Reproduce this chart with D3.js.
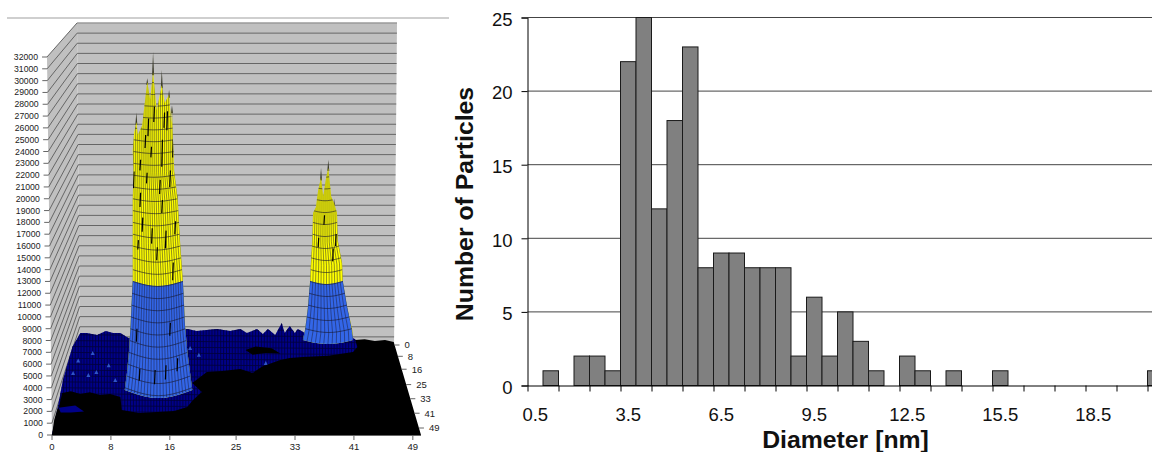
<!DOCTYPE html>
<html>
<head>
<meta charset="utf-8">
<script src="https://cdnjs.cloudflare.com/ajax/libs/d3/7.8.5/d3.min.js"></script>
<style>
  html, body { margin: 0; padding: 0; background: #fff; overflow: hidden; }
  svg { display: block; font-family: "Liberation Sans", Arial, sans-serif; }
</style>
</head>
<body>
<div id="chart"></div>
<script>
//------histogram data-----------------
var binLabels = d3.range(41).map(function (i) { return (0.5 + i * 0.5).toFixed(1); });
var binCounts = [0, 1, 0, 2, 2, 1, 22, 25, 12, 18, 23, 8, 9, 9, 8, 8, 8, 2, 6, 2, 5, 3, 1, 0, 2, 1, 0, 1, 0, 0, 1, 0, 0, 0, 0, 0, 0, 0, 0, 0, 1];
var countTicks = [0, 5, 10, 15, 20, 25];

//------surface data (u = x axis units, z = height read against the front axis)-----------------
var zTicks = d3.range(0, 33000, 1000);
var xLabels = [0, 8, 16, 25, 33, 41, 49];
var depthLabels = [0, 8, 16, 25, 33, 41, 49];

var navyTopU = [3.9, 4.8, 6.2, 7.4, 8.4, 9.4, 10.5, 18.6, 19.9, 21.3, 22.7, 24.5, 25.9, 26.8, 28.2, 29.0, 29.7, 30.7, 31.6, 32.0, 32.7, 33.4, 33.8, 34.8, 41.4];
var navyTopZ = [8640, 8640, 8470, 8810, 8640, 8640, 8210, 8970, 8810, 8890, 8970, 8810, 8970, 8640, 8970, 8550, 8970, 8470, 9480, 8640, 9230, 8640, 8970, 8640, 8210];
var navyLeftU = [2.8, 1.5, 0.8, 0];
var navyLeftZ = [7450, 4660, 2370, 0];

var blackTopU = [0, 0.3, 0.7, 0.96, 1.4, 2.6, 3.9, 5.2, 6.6, 8.0, 9.4, 9.6, 12.0, 14.4, 16.8, 18.6, 19.4, 20.6, 19.3, 21.3, 23.4, 25.9, 27.6, 28.9, 31.4, 32.7, 34.5, 38.0, 41.4, 42.0, 41.7, 43.0, 44.4, 45.8, 47.0, 50.75];
var blackTopZ = [0, 1270, 2120, 2370, 3560, 3700, 3470, 3610, 3390, 3480, 3220, 2120, 1860, 1950, 2030, 2370, 2960, 3640, 4400, 5330, 5420, 5590, 5250, 5800, 6350, 6520, 6600, 6700, 7030, 7450, 8040, 8110, 7960, 8040, 7870, 0];

var blobU = [0.9, 3.2, 4.4, 2.6, 1.2];
var blobZ = [2300, 2500, 2000, 1900, 1900];
var patchU = [26.6, 28.0, 30.2, 31.4, 29.4, 27.6];
var patchZ = [7200, 7500, 7350, 6900, 6950, 6800];
var speckU = [5.6, 2.9, 5.0, 6.1, 8.7, 19.0, 29.4, 3.6, 7.8, 20.2];
var speckZ = [6940, 5250, 5080, 5330, 4660, 7370, 6100, 6300, 5900, 6800];

// tower 1
var ringZ1 = [3800, 5200, 7200, 9300, 13100, 16500, 19900, 22400];
var ringL1 = [10.0, 10.3, 10.6, 10.8, 11.1, 11.1, 11.1, 11.2];
var ringR1 = [19.3, 19.0, 18.6, 18.3, 18.0, 17.6, 17.3, 16.8];
var topU1 = [11.1, 11.3, 11.6, 11.8, 12.4, 13.1, 13.5, 13.9, 14.4, 15.1, 15.5, 16.1, 16.4, 16.5, 16.6];
var topZ1 = [24100, 25600, 26500, 25400, 26200, 29900, 28400, 30700, 27500, 29600, 28100, 28800, 26400, 27500, 25600];
var tipU1 = [11.6, 13.1, 13.9, 15.1, 16.1, 16.5];
var tipLow1 = [26500, 29900, 30700, 29600, 28800, 27500];
var tipHigh1 = [27300, 30200, 32400, 30900, 29200, 27900];
var creaseU1 = [12.1, 11.2, 13.6, 15.1, 16.6, 15.1, 12.1, 17.3, 11.8, 16.6, 14.4, 13.2, 15.8, 12.8, 14.0, 15.4, 16.2, 13.0, 14.8, 12.4, 16.9, 13.7, 15.6, 12.0, 14.1, 15.6, 17.2, 11.6, 16.2];
var creaseLow1 = [22400, 20900, 23500, 22700, 23500, 18800, 19300, 20100, 15700, 13100, 14800, 25300, 25800, 24300, 26500, 26000, 21000, 21300, 20400, 17200, 17000, 16200, 15800, 4600, 4300, 4700, 5400, 7900, 8400];
var creaseHigh1 = [23300, 22300, 24400, 25000, 25000, 19900, 20500, 21000, 16500, 14600, 15900, 26800, 27400, 25400, 27800, 27300, 22400, 22200, 21600, 18400, 18100, 17500, 17300, 5600, 5500, 5900, 6500, 9000, 9500];

// tower 2
var ringZ2 = [8040, 8890, 10840, 13040, 14560, 16510, 18800];
var ringL2 = [34.5, 34.8, 35.2, 35.5, 35.6, 35.8, 35.9];
var ringR2 = [41.4, 41.3, 40.6, 40.0, 39.9, 39.3, 39.2];
var topU2 = [36.3, 36.6, 37.0, 37.3, 37.7, 38.0, 38.4, 38.8];
var topZ2 = [19300, 20700, 21800, 20200, 21800, 22600, 20200, 19600];
var tipU2 = [37.0, 38.0, 38.8];
var tipLow2 = [21800, 22600, 19600];
var tipHigh2 = [22600, 23300, 20000];
var creaseU2 = [36.6, 38.6, 37.4, 39.0];
var creaseLow2 = [15900, 14700, 17800, 16000];
var creaseHigh2 = [16700, 15800, 18600, 17000];

var yellowFrom = 13000;

//------form the SVG-----------------
var width = 1152;
var height = 452;
var svg = d3.select("#chart").append("svg")
  .attr("width", width)
  .attr("height", height);

//==================== surface chart ====================
var xFront = d3.scaleLinear().domain([0, 50.75]).range([52, 421]);
var zFront = d3.scaleLinear().domain([0, 32000]).range([435, 57]);
var zBack = d3.scaleLinear().domain([0, 32000]).range([347, 23]);
var edgeFront = d3.scaleLinear().domain([0, 32000]).range([52, 47]);
var edgeBack = d3.scaleLinear().domain([0, 32000]).range([80, 77]);
var edgeRight = d3.scaleLinear().domain([0, 32000]).range([394, 397]);
var depthY = d3.scalePow().exponent(1.1).domain([0, 49]).range([345, 428]);
var depthX = d3.scaleLinear().domain([345, 435]).range([394.5, 421]);

var pt = function (u, z) { return [xFront(u), zFront(z)]; };
var line = d3.line();
var zipPts = function (us, zs) { return us.map(function (u, i) { return pt(u, zs[i]); }); };

// thin rule above the chart
svg.append("line").attr("x1", 7).attr("x2", 449).attr("y1", 18).attr("y2", 18)
  .attr("stroke", "#bfbfbf").attr("stroke-width", 1.6);

// walls
svg.append("path")
  .attr("d", line([[47, 57], [77, 23], [80, 347], [52, 435]]) + "Z")
  .attr("fill", "#c0c0c0");
svg.append("path")
  .attr("d", line([[77, 23], [397, 23], [394, 347], [80, 347]]) + "Z")
  .attr("fill", "#c0c0c0");

var wallLines = svg.append("g").attr("stroke", "#666").attr("stroke-width", 1).attr("fill", "none");
zTicks.forEach(function (z) {
  wallLines.append("path").attr("d", line([
    [edgeFront(z), zFront(z)], [edgeBack(z), zBack(z)], [edgeRight(z), zBack(z)]
  ]));
});
svg.append("line").attr("x1", 77).attr("x2", 397).attr("y1", 23).attr("y2", 23).attr("stroke", "#b4b4b4");

// navy ground with its mesh
var navyPts = [pt(navyTopU[0], navyTopZ[0])].concat(zipPts(navyTopU, navyTopZ))
  .concat([pt(47, 6000), pt(47, 0), pt(0, 0)])
  .concat(zipPts(navyLeftU, navyLeftZ).reverse());
svg.append("clipPath").attr("id", "navy-clip").append("path").attr("d", line(navyPts) + "Z");
svg.append("path").attr("d", line(navyPts) + "Z").attr("fill", "#000088");

var navyMesh = svg.append("g").attr("clip-path", "url(#navy-clip)")
  .attr("stroke", "#00003a").attr("stroke-width", 0.8).attr("fill", "none");
d3.range(0, 46, 0.4).forEach(function (u) {
  navyMesh.append("line")
    .attr("x1", xFront(u)).attr("x2", xFront(u))
    .attr("y1", zFront(10000)).attr("y2", zFront(0));
});
d3.range(2000, 10000, 500).forEach(function (z) {
  navyMesh.append("line")
    .attr("x1", xFront(0)).attr("x2", xFront(46))
    .attr("y1", zFront(z)).attr("y2", zFront(z - 200));
});

svg.append("g").selectAll("path").data(speckU).enter().append("path")
  .attr("d", function (u, i) {
    var p = pt(u, speckZ[i]);
    return line([[p[0] - 2, p[1] + 2], [p[0], p[1] - 2], [p[0] + 2, p[1] + 2]]) + "Z";
  })
  .attr("fill", "#2f55c8");

svg.append("path").attr("d", line(zipPts(patchU, patchZ)) + "Z").attr("fill", "#000");

// black ground in front
svg.append("path")
  .attr("d", line(zipPts(blackTopU, blackTopZ)) + "Z")
  .attr("fill", "#000");
svg.append("path").attr("d", line(zipPts(blobU, blobZ)) + "Z").attr("fill", "#000088");

// one tower: silhouette from the rings and the spiky top
function drawTower(id, ringZ, ringL, ringR, topU, topZ, tipU, tipLow, tipHigh, creaseU, creaseLow, creaseHigh, bowBottom, columns) {
  var n = ringZ.length - 1;
  var leftAt = d3.scaleLinear().domain(ringZ).range(ringL).clamp(true);
  var rightAt = d3.scaleLinear().domain(ringZ).range(ringR).clamp(true);
  var bowAt = d3.scaleLinear().domain([ringZ[0], ringZ[n]]).range([bowBottom, 2]).clamp(true);
  var across = d3.range(0, 1.0001, 0.1);

  // a curved ring across the front of the tower
  var ringPath = function (z) {
    return across.map(function (t) {
      var u = leftAt(z) + (rightAt(z) - leftAt(z)) * t;
      var p = pt(u, z);
      return [p[0], p[1] + Math.sin(Math.PI * t) * bowAt(z)];
    });
  };

  var outline = ringPath(ringZ[0])
    .concat(zipPts(ringR, ringZ).slice(1))
    .concat(zipPts(topU, topZ).reverse())
    .concat(zipPts(ringL, ringZ).reverse());
  svg.append("clipPath").attr("id", id).append("path").attr("d", line(outline) + "Z");

  var g = svg.append("g");

  // dark spike tips behind the yellow
  g.selectAll("path.tip").data(tipU).enter().append("path")
    .attr("class", "tip")
    .attr("d", function (u, i) {
      var a = pt(u, tipLow[i]);
      var b = pt(u, tipHigh[i]);
      return line([[a[0] - 1, a[1] + 3], b, [a[0] + 1, a[1] + 3]]) + "Z";
    })
    .attr("fill", "#3a3a2a");

  var inner = g.append("g").attr("clip-path", "url(#" + id + ")");
  inner.append("rect").attr("x", 100).attr("y", 30).attr("width", 270).attr("height", 400).attr("fill", "#ffff00");
  var blue = ringPath(ringZ[0]).concat(ringPath(yellowFrom).reverse());
  inner.append("path").attr("d", line(blue) + "Z").attr("fill", "#3366e8").attr("stroke", "#3366e8");

  // mesh: lines up the tower and rings round it
  var upZ = ringZ.concat(zTicks.filter(function (z) { return z > ringZ[n]; }));
  d3.range(0, 1.001, 1 / columns).forEach(function (t) {
    inner.append("path")
      .attr("d", line(upZ.map(function (z) {
        var p = pt(leftAt(z) + (rightAt(z) - leftAt(z)) * t, z);
        return [p[0], p[1] + Math.sin(Math.PI * t) * bowAt(z)];
      })))
      .attr("fill", "none")
      .attr("stroke", "#1c1c30")
      .attr("stroke-opacity", 0.6)
      .attr("stroke-width", 0.8);
  });
  zTicks.filter(function (z) { return z >= ringZ[0]; }).forEach(function (z) {
    inner.append("path")
      .attr("d", line(ringPath(z)))
      .attr("fill", "none")
      .attr("stroke", "#15152a")
      .attr("stroke-opacity", 0.75)
      .attr("stroke-width", 0.8);
  });

  // black creases on the rough faces
  inner.selectAll("line.crease").data(creaseU).enter().append("line")
    .attr("class", "crease")
    .attr("x1", function (u) { return xFront(u); })
    .attr("x2", function (u) { return xFront(u) + 0.6; })
    .attr("y1", function (u, i) { return zFront(creaseLow[i]); })
    .attr("y2", function (u, i) { return zFront(creaseHigh[i]); })
    .attr("stroke", "#000")
    .attr("stroke-width", 1.2);
}

drawTower("tower-2", ringZ2, ringL2, ringR2, topU2, topZ2, tipU2, tipLow2, tipHigh2, creaseU2, creaseLow2, creaseHigh2, 4, 12);
drawTower("tower-1", ringZ1, ringL1, ringR1, topU1, topZ1, tipU1, tipLow1, tipHigh1, creaseU1, creaseLow1, creaseHigh1, 8, 21);

// height axis
var zAxis = svg.append("g").attr("font-size", 8.7).attr("fill", "#222");
zTicks.forEach(function (z) {
  zAxis.append("line")
    .attr("x1", edgeFront(z) - 5).attr("x2", edgeFront(z))
    .attr("y1", zFront(z)).attr("y2", zFront(z))
    .attr("stroke", "#666");
  zAxis.append("text")
    .attr("x", edgeFront(z) - 9).attr("y", zFront(z))
    .attr("dy", "0.35em").attr("text-anchor", "end")
    .text(z);
});

// front axis
var xAxis = svg.append("g").attr("font-size", 9.5).attr("fill", "#222");
xAxis.append("line").attr("x1", 52).attr("x2", 421).attr("y1", 435.5).attr("y2", 435.5).attr("stroke", "#666");
xLabels.forEach(function (v) {
  xAxis.append("line").attr("x1", xFront(v * 1.0128)).attr("x2", xFront(v * 1.0128))
    .attr("y1", 435).attr("y2", 440).attr("stroke", "#666");
  xAxis.append("text").attr("x", xFront(v * 1.0128)).attr("y", 449.5)
    .attr("text-anchor", "middle").text(v);
});

// depth axis
var dAxis = svg.append("g").attr("font-size", 9.5).attr("fill", "#222");
depthLabels.forEach(function (v) {
  var y = depthY(v);
  dAxis.append("line").attr("x1", depthX(y)).attr("x2", depthX(y) + 5)
    .attr("y1", y).attr("y2", y).attr("stroke", "#666");
  dAxis.append("text").attr("x", depthX(y) + 10).attr("y", y)
    .attr("dy", "0.35em").text(v);
});

//==================== histogram ====================
var barWidth = 15.5;
var plotLeft = 527.5;
var xBand = d3.scaleBand().domain(binLabels).range([plotLeft, plotLeft + barWidth * binLabels.length]);
var xEdge = d3.scaleLinear().domain([0, binLabels.length]).range([plotLeft, plotLeft + barWidth * binLabels.length]);
var yCount = d3.scaleLinear().domain([0, 25]).range([385.5, 17.5]);

// gridlines
svg.append("g").selectAll("line").data(countTicks.slice(1)).enter().append("line")
  .attr("x1", plotLeft).attr("x2", width)
  .attr("y1", function (d) { return yCount(d); })
  .attr("y2", function (d) { return yCount(d); })
  .attr("stroke", "#444");

// bars
var bars = svg.append("g");
binCounts.forEach(function (d, i) {
  if (d === 0) return;
  bars.append("rect")
    .attr("x", xBand(binLabels[i]))
    .attr("y", yCount(d))
    .attr("width", xBand.bandwidth())
    .attr("height", yCount(0) - yCount(d))
    .attr("fill", "#808080")
    .attr("stroke", "#1a1a1a")
    .attr("stroke-width", 1);
});

// axes
var yAxisG = svg.append("g").attr("transform", "translate(" + plotLeft + ",0)")
  .call(d3.axisLeft(yCount).tickValues(countTicks).tickSize(6).tickFormat(d3.format("d")));
yAxisG.select(".domain").attr("stroke", "#000");
yAxisG.selectAll("text").attr("font-size", 18.5).attr("font-family", "Liberation Sans").attr("fill", "#111").attr("dx", -6).attr("dy", "0.42em");

var xAxisG = svg.append("g").attr("transform", "translate(0,385.5)")
  .call(d3.axisBottom(xEdge).tickValues(d3.range(0, 42, 2)).tickSize(6).tickSizeOuter(0).tickFormat(""));
xAxisG.select(".domain").attr("stroke", "#000");

svg.append("g").selectAll("text")
  .data(binLabels.filter(function (d, i) { return i % 6 === 0 && i <= 36; }))
  .enter().append("text")
  .attr("x", function (d) { return xBand(d) + xBand.bandwidth() / 2; })
  .attr("y", 415)
  .attr("dy", "0.35em")
  .attr("text-anchor", "middle")
  .attr("font-size", 18.5)
  .attr("fill", "#111")
  .text(function (d) { return d; });

svg.append("text")
  .attr("x", 845.5).attr("y", 448)
  .attr("text-anchor", "middle")
  .attr("font-size", 24.8).attr("font-weight", "bold")
  .attr("fill", "#111")
  .text("Diameter [nm]");

svg.append("text")
  .attr("transform", "translate(473,204) rotate(-90)")
  .attr("text-anchor", "middle")
  .attr("font-size", 24.8).attr("font-weight", "bold")
  .attr("fill", "#111")
  .text("Number of Particles");
</script>
</body>
</html>
